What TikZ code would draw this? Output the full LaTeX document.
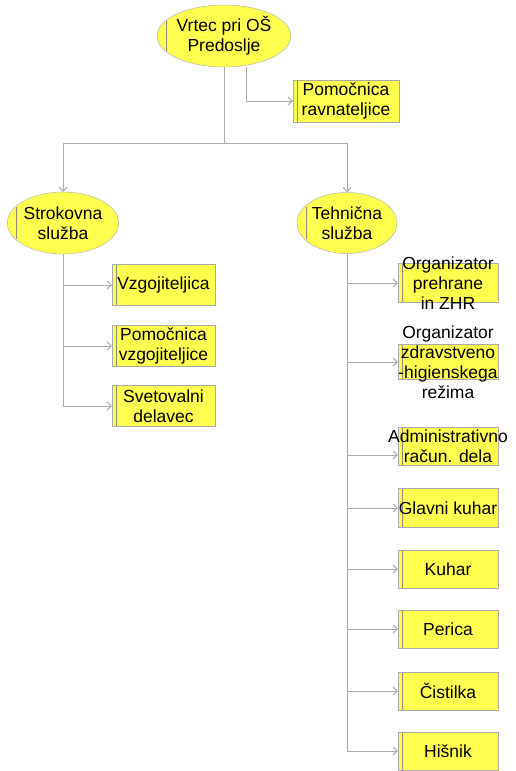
\documentclass[tikz,border=0pt]{standalone}
\usepackage{fontspec}
\setmainfont{Liberation Sans}
\usepackage{tikz}
\usetikzlibrary{arrows.meta, positioning, shapes.geometric}
\definecolor{unityellow}{HTML}{FFFF4F}
\definecolor{linegray}{HTML}{ABABAB}
\definecolor{edgegray}{HTML}{8C8C7A}

\begin{document}
\begin{tikzpicture}[x=1pt, y=-1pt, >={Straight Barb[length=4pt, width=8pt]},
    font=\fontsize{17.5}{20}\selectfont,
    unit/.style={ellipse, draw=linegray, fill=unityellow, inner sep=0pt, align=center,
        path picture={\draw[edgegray] ([xshift=9pt, yshift=-16pt]path picture bounding box.west)
            -- ([xshift=9pt, yshift=16pt]path picture bounding box.west);}},
    post/.style={rectangle, draw=linegray, fill=unityellow, inner sep=0pt, align=center,
        minimum width=100pt, minimum height=38pt,
        path picture={\draw[edgegray] ([xshift=4pt]path picture bounding box.north west)
            -- ([xshift=4pt]path picture bounding box.south west);}},
    posttext/.style={inner sep=0pt, align=center},
    conn/.style={->, draw=linegray, line width=1pt},
    trunk/.style={draw=linegray, line width=1pt}]
    \useasboundingbox (0,0) rectangle (516,771);

    % ── TOP: VRTEC ────────────────────────────────────────────────────
    \node[unit, minimum width=110pt, minimum height=62pt] (root) at (224,36) {Vrtec pri OŠ\\Predoslje};
    \node[post, minimum width=106pt, minimum height=42pt] (pr) at (346,101) {Pomočnica\\ravnateljice};
    \draw[conn] ([xshift=22pt]root.south) |- (pr.west);

    % Split into the two services
    \coordinate (split) at (224,143);
    \node[unit, minimum width=99pt, minimum height=62pt] (sk) at (63,223) {Strokovna\\služba};
    \node[unit, minimum width=100pt, minimum height=61pt] (th) at (347,223) {Tehnična\\služba};
    \draw[trunk] (root.south) -- (split);
    \draw[conn] (split) -| (sk.north);
    \draw[conn] (split) -| (th.north);

    % ── LEFT: STROKOVNA SLUŽBA ────────────────────────────────────────
    \node[post, minimum width=103pt, minimum height=41pt] (vz) at (163.5,285) {Vzgojiteljica};
    \node[post, minimum width=103pt, minimum height=41pt] (pv) at (163.5,346) {Pomočnica\\vzgojiteljice};
    \node[post, minimum width=103pt, minimum height=41pt] (sd) at (163.5,406) {Svetovalni\\delavec};
    \draw[conn] (sk.south) |- (vz.west);
    \draw[conn] (sk.south) |- (pv.west);
    \draw[conn] (sk.south) |- (sd.west);

    % ── RIGHT: TEHNIČNA SLUŽBA ────────────────────────────────────────
    % Texts larger than their boxes sit on top of them
    \node[post, minimum height=39pt] (ozhr) at (448,283) {};
    \node[posttext] (ozhrtext) at (ozhr) {Organizator\\prehrane\\in ZHR};
    \node[post, minimum height=35pt] (zhr) at (448,362) {};
    \node[posttext] (zhrtext) at (zhr) {Organizator\\zdravstveno\\-higienskega\\režima};
    \node[post] (adm) at (448,446) {};
    \node[posttext] (admtext) at (adm) {Administrativno\\račun. dela};
    \node[post, minimum height=39pt] (gk) at (448,508) {Glavni kuhar};
    \node[post] (ku) at (448,569) {Kuhar};
    \node[post] (pe) at (448,629) {Perica};
    \node[post] (ci) at (448,691) {Čistilka};
    \node[post] (hi) at (448,751) {Hišnik};

    \draw[conn] (th.south) |- (ozhr.west);
    \draw[conn] (th.south) |- (zhr.west);
    \draw[conn] (th.south) |- ([yshift=-9pt]adm.west);
    \draw[conn] (th.south) |- (gk.west);
    \draw[conn] (th.south) |- (ku.west);
    \draw[conn] (th.south) |- (pe.west);
    \draw[conn] (th.south) |- (ci.west);
    \draw[conn] (th.south) |- (hi.west);
\end{tikzpicture}
\end{document}
